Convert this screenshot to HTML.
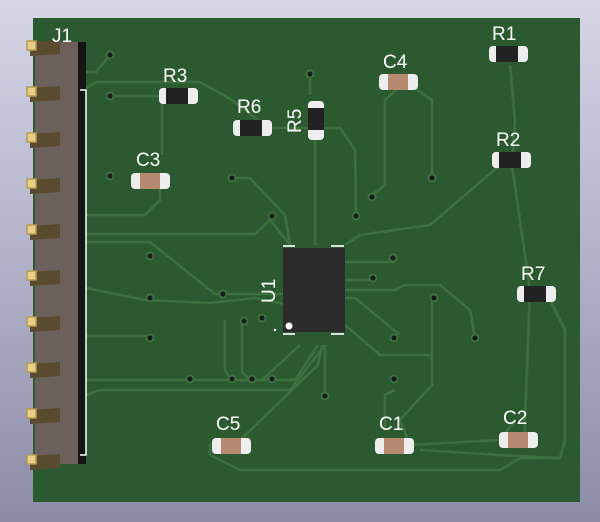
<!DOCTYPE html>
<html><head><style>
html,body{margin:0;padding:0;width:600px;height:522px;overflow:hidden;background:linear-gradient(#d6d6e8,#8c8ca8);}
svg{display:block}
text{font-family:"Liberation Sans",sans-serif;fill:#fff;font-size:19px}
</style></head><body>
<svg width="600" height="522" viewBox="0 0 600 522">
<rect x="33" y="18" width="547" height="484" fill="#2c5a30"/>
<g stroke="#3d7040" stroke-width="2.6" fill="none" stroke-linejoin="round">
<path d="M86 72 L96 72 L110 55"/>
<path d="M86 88 L96 82 L200 82 L232 100 L268 128 L340 128 L355 150 L356 215"/>
<path d="M110 96 L162 96 L162 155"/>
<path d="M160 180 L160 200 L145 215 L86 215"/>
<path d="M86 234 L255 234 L270 220 L290 245"/>
<path d="M86 242 L150 242 L215 294 L285 294"/>
<path d="M86 288 L145 300 L210 303 L255 298 L285 304"/>
<path d="M86 336 L150 336"/>
<path d="M86 380 L190 380 L295 380 L318 345"/>
<path d="M86 395 L100 390 L290 390 L325 345"/>
<path d="M232 178 L250 178 L285 215 L290 245"/>
<path d="M225 320 L225 370 L230 378"/>
<path d="M242 318 L242 372 L250 380"/>
<path d="M262 380 L300 345"/>
<path d="M210 444 L210 455 L240 470 L500 470 L520 458 L560 458 L565 440 L565 330 L550 300"/>
<path d="M240 440 L318 365 L322 345"/>
<path d="M325 345 L325 395"/>
<path d="M345 262 L395 262"/>
<path d="M345 280 L375 280"/>
<path d="M345 290 L395 290 L405 285 L440 285 L470 310 L475 338"/>
<path d="M345 298 L355 298 L400 335"/>
<path d="M345 325 L380 355 L432 355 L432 298"/>
<path d="M432 355 L432 385 L400 420 L410 445"/>
<path d="M395 390 L385 395 L385 430"/>
<path d="M410 445 L500 440 L515 420"/>
<path d="M420 450 L500 455 L555 458"/>
<path d="M345 245 L360 235 L430 225 L500 165"/>
<path d="M372 195 L385 185 L385 100 L398 88"/>
<path d="M432 178 L432 100 L410 85"/>
<path d="M315 140 L315 245"/>
<path d="M310 75 L310 95"/>
<path d="M510 65 L515 120 L512 165 L530 290 L525 420 L525 438"/>
</g>
<g fill="#1a1a1a" stroke="#3d7040" stroke-width="2">
<circle cx="110" cy="55" r="3.5"/><circle cx="110" cy="96" r="3.5"/><circle cx="310" cy="74" r="3.5"/>
<circle cx="110" cy="176" r="3.5"/><circle cx="232" cy="178" r="3.5"/><circle cx="272" cy="216" r="3.5"/>
<circle cx="356" cy="216" r="3.5"/><circle cx="372" cy="197" r="3.5"/><circle cx="432" cy="178" r="3.5"/>
<circle cx="150" cy="256" r="3.5"/><circle cx="150" cy="298" r="3.5"/><circle cx="150" cy="338" r="3.5"/>
<circle cx="223" cy="294" r="3.5"/><circle cx="244" cy="321" r="3.5"/><circle cx="262" cy="318" r="3.5"/>
<circle cx="190" cy="379" r="3.5"/><circle cx="232" cy="379" r="3.5"/><circle cx="252" cy="379" r="3.5"/><circle cx="272" cy="379" r="3.5"/>
<circle cx="393" cy="258" r="3.5"/><circle cx="373" cy="278" r="3.5"/><circle cx="434" cy="298" r="3.5"/>
<circle cx="394" cy="338" r="3.5"/><circle cx="475" cy="338" r="3.5"/><circle cx="394" cy="379" r="3.5"/><circle cx="325" cy="396" r="3.5"/>
</g>
<!-- J1 -->
<rect x="35" y="42" width="44" height="422" fill="#6b615a"/>
<rect x="78" y="42" width="8" height="422" fill="#151515"/>
<path d="M80 90 H86 V455 H80" stroke="#fff" stroke-width="1.5" fill="none"/>
<g fill="#5a4a30">
<polygon points="30,42 60,40 60,54 30,56"/><polygon points="30,88 60,86 60,100 30,102"/><polygon points="30,134 60,132 60,146 30,148"/>
<polygon points="30,180 60,178 60,192 30,194"/><polygon points="30,226 60,224 60,238 30,240"/><polygon points="30,272 60,270 60,284 30,286"/>
<polygon points="30,318 60,316 60,330 30,332"/><polygon points="30,364 60,362 60,376 30,378"/><polygon points="30,410 60,408 60,422 30,424"/>
<polygon points="30,456 60,454 60,468 30,470"/>
</g>
<g fill="#e8cf88" stroke="#b89a50" stroke-width="1.5">
<rect x="27" y="41" width="9" height="9"/><rect x="27" y="87" width="9" height="9"/><rect x="27" y="133" width="9" height="9"/>
<rect x="27" y="179" width="9" height="9"/><rect x="27" y="225" width="9" height="9"/><rect x="27" y="271" width="9" height="9"/>
<rect x="27" y="317" width="9" height="9"/><rect x="27" y="363" width="9" height="9"/><rect x="27" y="409" width="9" height="9"/>
<rect x="27" y="455" width="9" height="9"/>
</g>
<!-- U1 -->
<rect x="283" y="248" width="62" height="84" fill="#2b2b2b"/>
<g stroke="#ddd" stroke-width="2"><line x1="283" y1="246" x2="295" y2="246"/><line x1="331" y1="246" x2="344" y2="246"/><line x1="283" y1="334" x2="295" y2="334"/><line x1="331" y1="334" x2="344" y2="334"/></g>
<circle cx="289" cy="326" r="3.5" fill="#fff"/><circle cx="275" cy="330" r="1.2" fill="#fff"/>
<text transform="translate(275,303) rotate(-90)">U1</text>
<!-- resistors -->
<g id="res">
</g>
<g>
<rect x="159" y="88" width="39" height="16" rx="4" fill="#eee"/><rect x="166" y="88" width="22" height="16" fill="#222"/>
<rect x="233" y="120" width="39" height="16" rx="4" fill="#eee"/><rect x="240" y="120" width="22" height="16" fill="#222"/>
<rect x="489" y="46" width="39" height="16" rx="4" fill="#eee"/><rect x="496" y="46" width="22" height="16" fill="#222"/>
<rect x="492" y="152" width="39" height="16" rx="4" fill="#eee"/><rect x="499" y="152" width="22" height="16" fill="#222"/>
<rect x="517" y="286" width="39" height="16" rx="4" fill="#eee"/><rect x="524" y="286" width="22" height="16" fill="#222"/>
<rect x="308" y="101" width="16" height="39" rx="4" fill="#eee"/><rect x="308" y="108" width="16" height="22" fill="#222"/>
</g>
<g>
<rect x="131" y="173" width="39" height="16" rx="4" fill="#eee"/><rect x="140" y="173" width="20" height="16" fill="#b58a70"/>
<rect x="379" y="74" width="39" height="16" rx="4" fill="#eee"/><rect x="388" y="74" width="20" height="16" fill="#b58a70"/>
<rect x="212" y="438" width="39" height="16" rx="4" fill="#eee"/><rect x="221" y="438" width="20" height="16" fill="#b58a70"/>
<rect x="375" y="438" width="39" height="16" rx="4" fill="#eee"/><rect x="384" y="438" width="20" height="16" fill="#b58a70"/>
<rect x="499" y="432" width="39" height="16" rx="4" fill="#eee"/><rect x="508" y="432" width="20" height="16" fill="#b58a70"/>
</g>
<text x="52" y="42">J1</text>
<text x="163" y="82">R3</text>
<text x="237" y="113">R6</text>
<text transform="translate(301,133) rotate(-90)">R5</text>
<text x="136" y="166">C3</text>
<text x="383" y="68">C4</text>
<text x="492" y="40">R1</text>
<text x="496" y="146">R2</text>
<text x="521" y="280">R7</text>
<text x="216" y="430">C5</text>
<text x="379" y="430">C1</text>
<text x="503" y="424">C2</text>
</svg>
</body></html>
